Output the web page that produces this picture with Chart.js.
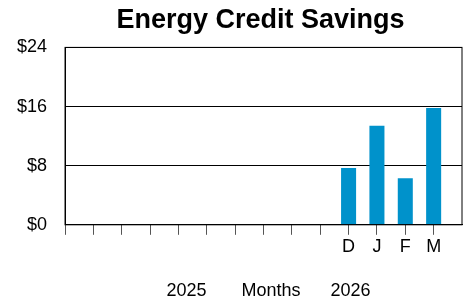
<!DOCTYPE html>
<html>
<head>
<meta charset="utf-8">
<script src="https://cdn.jsdelivr.net/npm/chart.js@4"></script>
<style>
  body { margin: 0; background: #fff; }
  #wrap { width: 471px; height: 300px; }
</style>
</head>
<body>
<div id="wrap"><canvas id="savingsChart"></canvas></div>
<script>
// Feb 2025 .. Mar 2026, only the last four months have values
const months = ['Feb', 'Mar', 'Apr', 'May', 'Jun', 'Jul', 'Aug', 'Sep', 'Oct', 'Nov', 'Dec', 'Jan', 'Feb', 'Mar'];
const tickLabels = ['', '', '', '', '', '', '', '', '', '', 'D', 'J', 'F', 'M'];
const savings = [null, null, null, null, null, null, null, null, null, null, 7.7, 13.4, 6.3, 15.8];
const yTicks = [0, 8, 16, 24];
const axisTitle = '  2025       Months      2026';
// leading spaces keep the title centred over the plot instead of the canvas
const chartTitle = '        Energy Credit Savings';

const font = 'Liberation Sans, Arial, sans-serif';

// frame around the plot area (top and right edges)
const frame = {
    id: 'frame',
    afterDraw(chart) {
        const { ctx, chartArea } = chart;
        ctx.save();
        ctx.strokeStyle = '#000';
        ctx.lineWidth = 1;
        ctx.strokeRect(chartArea.left, chartArea.top, chartArea.right - chartArea.left, chartArea.bottom - chartArea.top);
        ctx.restore();
    }
};

const ctx = document.getElementById('savingsChart').getContext('2d');
new Chart(ctx, {
    type: 'bar',
    data: {
        labels: [...months, ''],
        datasets: [{
            label: 'Savings',
            data: savings,
            backgroundColor: '#0092CB',
            barPercentage: 0.53,
            categoryPercentage: 1
        }]
    },
    options: {
        responsive: true,
        maintainAspectRatio: false,
        animation: false,
        layout: { padding: { left: -1, right: 9, top: 0, bottom: 0 } },
        plugins: {
            legend: { display: false },
            tooltip: { enabled: false },
            title: {
                display: true,
                text: chartTitle,
                color: '#000',
                font: { family: font, size: 27, weight: 'bold' },
                padding: { top: 4, bottom: 11 }
            }
        },
        scales: {
            x: {
                offset: false,
                grid: {
                    offset: false,
                    drawOnChartArea: false,
                    drawTicks: true,
                    tickLength: 10,
                    tickColor: c => c.index < months.length ? '#555' : 'rgba(0,0,0,0)'
                },
                border: { color: '#000', width: 1 },
                ticks: {
                    autoSkip: false,
                    maxRotation: 0,
                    padding: 1,
                    color: '#000',
                    font: { family: font, size: 18 },
                    callback: (v, i) => i < tickLabels.length ? tickLabels[i] : ''
                },
                title: {
                    display: true,
                    text: axisTitle,
                    color: '#000',
                    font: { family: font, size: 18 },
                    padding: { top: 22, bottom: -2 }
                }
            },
            y: {
                min: yTicks[0],
                max: yTicks[yTicks.length - 1],
                grid: { color: '#000', drawTicks: false },
                border: { color: '#000', width: 1 },
                afterBuildTicks: axis => { axis.ticks = yTicks.map(v => ({ value: v })); },
                ticks: {
                    padding: 18,
                    color: '#000',
                    font: { family: font, size: 18 },
                    callback: v => '$' + v
                }
            }
        }
    },
    plugins: [frame]
});
</script>
</body>
</html>
